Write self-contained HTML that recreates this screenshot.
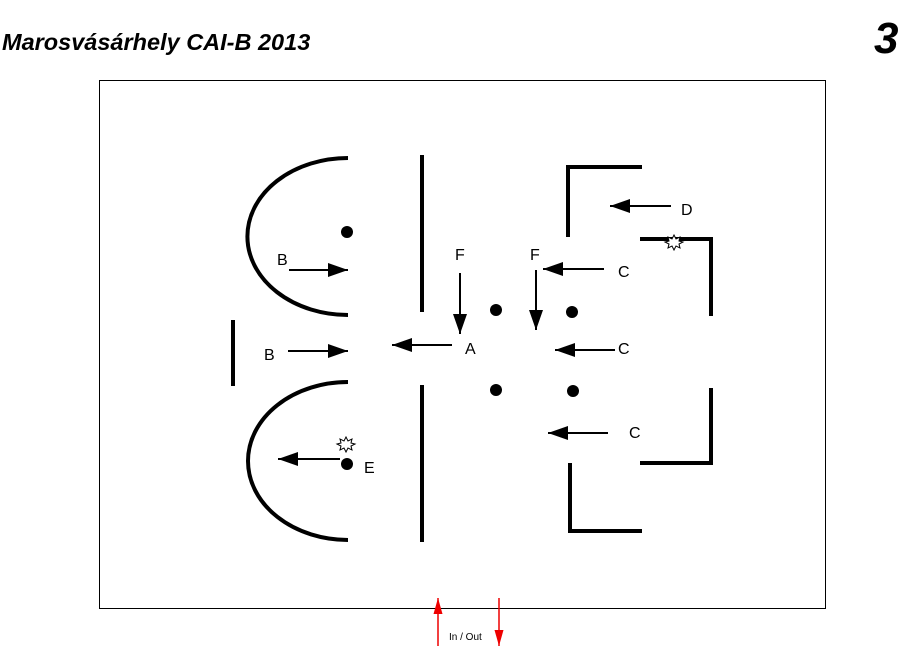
<!DOCTYPE html>
<html><head><style>body{margin:0;background:#fff}svg{display:block}</style></head><body>
<svg width="902" height="646" viewBox="0 0 902 646" xmlns="http://www.w3.org/2000/svg" font-family="Liberation Sans, Arial, sans-serif">
<defs>
<marker id="ah" viewBox="0 0 10 10" refX="10" refY="5" markerWidth="20" markerHeight="14" markerUnits="userSpaceOnUse" orient="auto" preserveAspectRatio="none"><path d="M0,0L10,5L0,10z" fill="#000"/></marker>
<marker id="rh" viewBox="0 0 10 10" refX="10" refY="5" markerWidth="16" markerHeight="9" markerUnits="userSpaceOnUse" orient="auto" preserveAspectRatio="none"><path d="M0,0L10,5L0,10z" fill="#e00"/></marker>
</defs>
<text x="2" y="50" font-size="23.5" font-weight="bold" font-style="italic">Marosvásárhely CAI-B 2013</text>
<text x="874" y="53" font-size="44" font-weight="bold" font-style="italic">3</text>
<rect x="99.5" y="80.5" width="726" height="528" fill="none" stroke="#000" stroke-width="1"/>
<g fill="none" stroke="#000" stroke-width="4">
<path d="M348,158 A100,78 0 0 0 348,315"/>
<path d="M348,382 A100,79 0 0 0 348,540"/>
<path d="M422,155V312M422,385V542M233,320V386"/>
<path d="M568,237V167H642"/>
<path d="M640,239H711V316"/>
<path d="M711,388V463H640"/>
<path d="M570,463V531H642"/>
</g>
<g fill="#000">
<circle cx="347" cy="232" r="6"/><circle cx="496" cy="310" r="6"/><circle cx="572" cy="312" r="6"/>
<circle cx="496" cy="390" r="6"/><circle cx="573" cy="391" r="6"/><circle cx="347" cy="464" r="6"/>
</g>
<g stroke="#000" stroke-width="2" fill="none">
<line x1="289" y1="270" x2="348" y2="270" marker-end="url(#ah)"/>
<line x1="288" y1="351" x2="348" y2="351" marker-end="url(#ah)"/>
<line x1="452" y1="345" x2="392" y2="345" marker-end="url(#ah)"/>
<line x1="460" y1="273" x2="460" y2="334" marker-end="url(#ah)"/>
<line x1="536" y1="270" x2="536" y2="330" marker-end="url(#ah)"/>
<line x1="604" y1="269" x2="543" y2="269" marker-end="url(#ah)"/>
<line x1="615" y1="350" x2="555" y2="350" marker-end="url(#ah)"/>
<line x1="608" y1="433" x2="548" y2="433" marker-end="url(#ah)"/>
<line x1="671" y1="206" x2="610" y2="206" marker-end="url(#ah)"/>
<line x1="340" y1="459" x2="278" y2="459" marker-end="url(#ah)"/>
</g>
<g stroke="#000" stroke-width="1" fill="#fff">
<path d="M674,235 L676,239 680,237 679,241 683,242 679,244 680,248 676,246 674,250 672,246 668,248 669,244 665,242 669,241 668,237 672,239z"/>
<path d="M346,437 L348,441 352,439 351,443 355,444 351,446 352,450 348,448 346,452 344,448 340,450 341,446 337,444 341,443 340,439 344,441z"/>
</g>
<g font-size="16">
<text x="277" y="265">B</text><text x="264" y="360">B</text><text x="465" y="354">A</text>
<text x="455" y="260">F</text><text x="530" y="260">F</text>
<text x="618" y="277">C</text><text x="618" y="354">C</text><text x="629" y="438">C</text>
<text x="681" y="215">D</text><text x="364" y="473">E</text>
</g>
<g stroke="#e00" stroke-width="1.5">
<line x1="438" y1="646" x2="438" y2="598" marker-end="url(#rh)"/>
<line x1="499" y1="598" x2="499" y2="646" marker-end="url(#rh)"/>
</g>
<text x="449" y="640" font-size="10">In / Out</text>
</svg>
</body></html>
